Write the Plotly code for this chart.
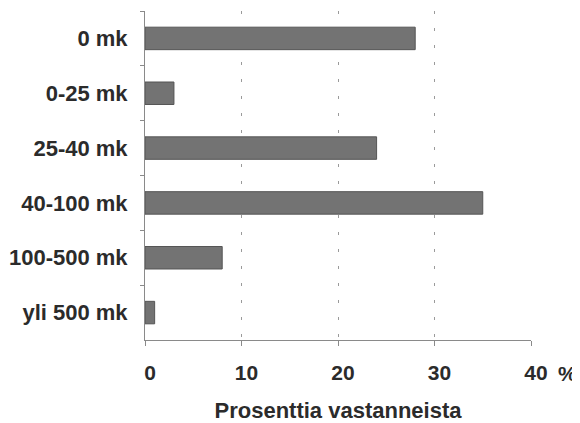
import plotly.graph_objects as go

categories = ["0 mk", "0-25 mk", "25-40 mk", "40-100 mk", "100-500 mk", "yli 500 mk"]
values = [28, 3, 24, 35, 8, 1]
x_ticks = [0, 10, 20, 30, 40]
x_title = "Prosenttia vastanneista"
unit = "%"

FONT = "Liberation Sans, Arial, sans-serif"
TXT = "#2b2b2b"

# page body has an 8px default margin; figure sized so it fits the 580x423 window
fig = go.Figure(go.Bar(
    y=categories, x=values, orientation="h",
    marker=dict(color="#737373", line=dict(color="#555555", width=1)),
    width=0.41,
))

fig.update_layout(
    width=572, height=415,
    margin=dict(l=137, r=49, t=3, b=83),
    paper_bgcolor="white", plot_bgcolor="white",
    showlegend=False,
    font=dict(family=FONT, color=TXT),
)
fig.update_xaxes(
    automargin=False,
    range=[0, 40], tickvals=x_ticks, ticktext=[str(v) for v in x_ticks],
    showline=True, linecolor="#8a8a8a", linewidth=1,
    ticks="outside", ticklen=5, tickcolor="#8a8a8a",
    showgrid=True, gridcolor="#9a9a9a", gridwidth=1, griddash="3px,14px",
    zeroline=False,
    tickfont=dict(family=FONT, size=21, color=TXT, weight="bold"),
    ticklabelshift=5, ticklabelstandoff=9,
    title=dict(text=x_title, font=dict(family=FONT, size=22, color=TXT, weight="bold"), standoff=24),
)
fig.update_yaxes(
    automargin=False,
    type="category", categoryorder="array", categoryarray=categories,
    autorange="reversed",
    showline=True, linecolor="#8a8a8a", linewidth=1,
    ticks="outside", ticklen=4, tickcolor="#8a8a8a", tickson="boundaries",
    showgrid=False, zeroline=False,
    tickfont=dict(family=FONT, size=22, color=TXT, weight="bold"),
    ticklabelstandoff=12,
)
fig.add_annotation(
    text=unit, xref="paper", yref="paper", x=(556 - 145) / 386, y=-(373 - 340) / 329,
    xanchor="left", yanchor="middle", showarrow=False,
    font=dict(family=FONT, size=21, color=TXT, weight="bold"),
)

fig.write_html("out.html")
